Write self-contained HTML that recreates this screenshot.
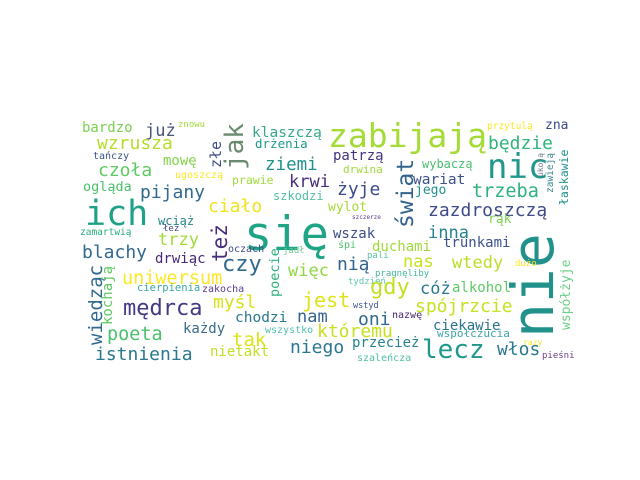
<!DOCTYPE html>
<html><head><meta charset="utf-8"><style>
html,body{margin:0;padding:0;background:#fff;}
svg{display:block;}
text{font-family:"DejaVu Sans Mono","Liberation Mono",monospace;}
</style></head><body>
<svg id="cloud" width="640" height="480" viewBox="0 0 640 480" xmlns="http://www.w3.org/2000/svg">
<rect width="640" height="480" fill="#fff"/>
</svg>
<script>
const words = ["bardzo","już","znowu","jak","klaszczą","wzrusza","drżenia","złe","tańczy","mowę","ziemi","czoła","ugoszczą","prawie","krwi","ogląda","pijany","szkodzi","ciało","ich","się","wciąż","zamartwią","łez","też","trzy","blachy","drwiąc","oczach","poecie","jadł","czy","więc","wiedząc","kochają","uniwersum","cierpienia","zakocha","myśl","jest","mędrca","chodzi","nam","poeta","każdy","wszystko","tak","istnienia","nietakt","niego","zabijają","przytulą","zna","będzie","patrzą","świat","wybaczą","drwina","nic","ukoją","zawieją","łaskawie","wariat","żyje","jego","trzeba","wylot","zazdroszczą","szczerze","rąk","wszak","inna","nie","duchami","trunkami","śpi","pali","nią","nas","wtedy","dużo","pragnęliby","tydzień","gdy","cóż","alkohol","wstyd","spójrzcie","oni","nazwę","ciekawie","któremu","współczucia","razy","przecież","lecz","włos","szaleńcza","pieśni","współżyje"];
const sizes = [14,17,9,26,14.5,18,12.5,15,10,14,17.5,18,10,11.5,17,13.5,18,12,18,35,47,12,9.5,9,21,17,18,14,10,13.5,9,22,17,19,14,18.5,10.5,10,18,20,22,14.5,17,18.5,14,10,19,18,14,18,33,9.5,13,18,14,23,12,11,34,8,9.5,11.5,14.5,18,13,18.5,13,18,6,13,14,17,58,14,14,10,9,18,17,17,9,9,9,22,17,14,8.5,18,18,10,14,18,11,8,14,26,18,10,9,13];
const colors = ["#7ad151","#46557b","#a0da39","#6a8a70","#35a88a","#b5de2b","#1f988b","#3e4a89","#3b528b","#86d549","#21918c","#5ec962","#fde725","#9fda3a","#472d7b","#4ac16d","#31688e","#52c0a0","#f0e21c","#1fa187","#20a486","#26828e","#29af7f","#414487","#472d7b","#a0da39","#31688e","#482878","#3e4a89","#2db27d","#6ece98","#31688e","#90d743","#31688e","#5ec962","#fde725","#3ca5a8","#5c3c8c","#d8e219","#dde318","#443983","#2a788e","#33638d","#4ac16d","#3a6a8c","#4fc0b0","#dde318","#2a788e","#c2df23","#2a788e","#a5db36","#fde725","#3e4a89","#2fb47c","#46337e","#33638d","#4ac16d","#a0da39","#1f988b","#6d7a8a","#3a8a8f","#21918c","#3b528b","#3e4a89","#21918c","#2db27d","#a8db34","#3e4a89","#5c3c8c","#7ad151","#3e4a89","#26828e","#21918c","#a0da39","#3b528b","#4ac16d","#55c4a8","#33638d","#c8e020","#b8de29","#fde725","#44b5a0","#5ec9b0","#c2df23","#2a788e","#5ec962","#3b528b","#c8e020","#31688e","#482878","#2c728e","#c8e020","#3ca5a8","#fde725","#26828e","#1f988b","#2a788e","#4ec0a8","#6b3e8c","#6ece8a"];
const rotated = [0,0,0,1,0,0,0,1,0,0,0,0,0,0,0,0,0,0,0,0,0,0,0,0,1,0,0,0,0,1,0,0,0,1,1,0,0,0,0,0,0,0,0,0,0,0,0,0,0,0,0,0,0,0,0,1,0,0,0,1,1,1,0,0,0,0,0,0,0,0,0,0,1,0,0,0,0,0,0,0,0,0,0,0,0,0,0,0,0,0,0,0,0,0,0,0,0,0,0,1];
// layout anchors (baseline start point) for each word
const anchors = [[82,132],[145,136],[178,127],[243,170],[252,137],[97,149],[255,148],[221,168],[93,159],[163,165],[265,170],[98,176],[175,178],[232,184],[289,187],[83,191],[140,198],[273,200],[208,212],[85,225],[244,250],[158,225],[80,235],[163,231],[227,262],[158,245],[82,258],[155,263],[228,252],[279,297],[283,253],[222,271],[288,276],[102,345],[112,325],[122,284],[137,291],[202,292],[213,308],[302,307],[123,315],[235,322],[297,322],[107,340],[183,333],[265,333],[232,346],[95,360],[210,356],[290,353],[328,147],[487,129],[545,129],[488,149],[333,160],[413,228],[422,168],[343,173],[487,178],[543,177],[553,193],[568,205],[413,184],[337,195],[415,194],[472,197],[328,211],[428,216],[352,219],[488,223],[333,238],[428,238],[553,338],[372,251],[443,247],[338,248],[367,258],[337,270],[403,267],[452,268],[515,266],[375,276],[348,284],[370,294],[420,294],[452,292],[353,308],[415,312],[358,325],[392,318],[433,330],[317,337],[437,337],[523,345],[352,347],[422,358],[497,355],[357,361],[542,358],[570,330]];
const svg = document.getElementById('cloud');
const NS = "http://www.w3.org/2000/svg";
for (let i = 0; i < words.length; i++) {
  const t = document.createElementNS(NS, 'text');
  
  
  const a = anchors[i];
  t.setAttribute('font-size', sizes[i]);
  t.setAttribute('fill', colors[i]);
  if (rotated[i]) {
    t.setAttribute('transform', 'translate(' + a[0] + ',' + a[1] + ') rotate(-90)');
  } else {
    t.setAttribute('x', a[0]);
    t.setAttribute('y', a[1]);
  }
  t.textContent = words[i];
  svg.appendChild(t);
}
</script>
</body></html>
